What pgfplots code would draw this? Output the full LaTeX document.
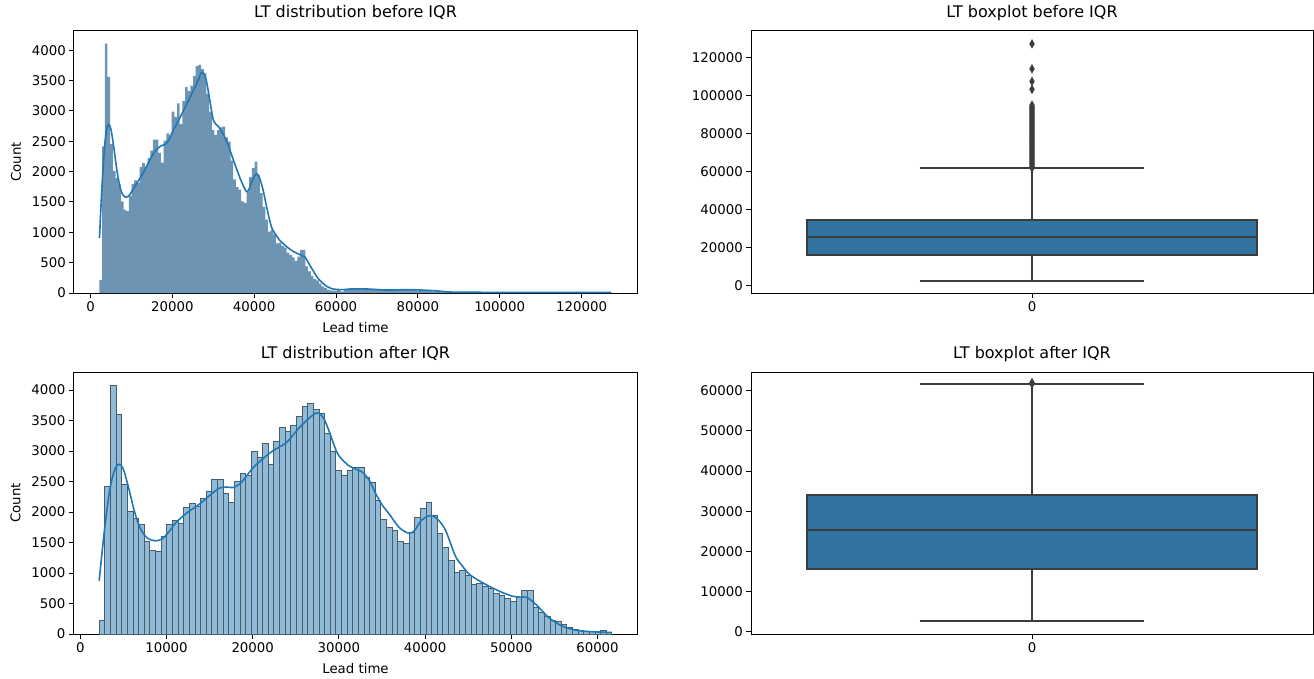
\documentclass[border=0pt]{standalone}
\usepackage{fontspec}
\setmainfont{DejaVu Sans}
\usepackage{pgfplots}
\pgfplotsset{compat=1.18}

\definecolor{cz}{RGB}{31,119,180}
\definecolor{histfill}{RGB}{143,187,217}
\definecolor{histedge}{RGB}{72,92,108}
\definecolor{histtop}{RGB}{110,148,180}
\definecolor{boxfill}{RGB}{50,116,161}
\definecolor{boxline}{RGB}{61,61,61}

\pgfplotsset{
  myaxis/.style={
    scale only axis, width=563pt, height=262pt, anchor=north west,
    axis line style={line width=1pt, black},
    tick pos=left, tick align=outside, major tick length=4.7pt,
    every tick/.style={line width=1pt, black},
    ticklabel style={font=\fontsize{13.33}{16}\selectfont},
    label style={font=\fontsize{13.33}{16}\selectfont},
    title style={font=\fontsize{16}{19}\selectfont, at={(axis description cs:0.5,1.028)}, anchor=base},
    scaled ticks=false,
    /pgf/number format/fixed,
    /pgf/number format/1000 sep={},
    /pgf/number format/assume math mode=true,
    xlabel style={at={(axis description cs:0.5,-0.131)}, anchor=center},
    ylabel style={at={(axis description cs:-0.103,0.5)}, anchor=center},
  },
  boxaxis/.style={
    myaxis, width=562pt, xmin=-0.5, xmax=0.5, xtick={0}, xticklabels={0},
  },
  boxpart/.style={draw=boxline, line width=2pt},
  outl/.style={only marks, mark=diamond*, mark size=4.3pt,
    mark options={xscale=0.75, fill=boxline, draw=boxline, line width=0.4pt}},
}

\begin{document}
\begin{tikzpicture}
\useasboundingbox (0pt,0pt) rectangle (1314pt,-679pt);

% ---------------- Top-left: histogram before IQR
\begin{axis}[myaxis, at={(74pt,-31pt)},
  title={LT distribution before IQR}, xlabel={Lead time}, ylabel={Count},
  xmin=-4030, xmax=133550, ymin=0, ymax=4318,
  xtick={0,20000,...,120000}, ytick={0,500,...,4000}]
\addplot[const plot mark mid, fill=histtop, draw=none] coordinates {
(2190,218) (2517,218) (3170,2417) (3824,4110) (4478,3560) (5131,2455) (5785,2013) (6438,1894) (7092,1790)
(7746,1512) (8399,1375) (9053,1348) (9706,1599) (10360,1800) (11014,1855) (11667,1812) (12321,2074)
(12974,2145) (13628,2085) (14282,2221) (14935,2346) (15589,2527) (16242,2527) (16896,2308) (17550,2150)
(18203,2510) (18857,2630) (19510,2603) (20164,2990) (20818,2903) (21471,3127) (22125,2783) (22778,3165)
(23432,3394) (24086,3329) (24739,3416) (25393,3574) (26046,3738) (26700,3760) (27354,3689) (28007,3618)
(28661,3285) (29314,2990) (29968,2685) (30622,2608) (31275,2690) (31929,2728) (32582,2740) (33236,2565)
(33890,2494) (34543,2183) (35197,1872) (35850,1746) (36504,1703) (37158,1512) (37811,1484) (38465,1664)
(39118,1910) (39772,2057) (40426,2166) (41079,1948) (41733,1648) (42386,1419) (43040,1211) (43694,1010)
(44347,1037) (45001,966) (45654,819) (46308,829) (46962,775) (47615,748) (48269,666) (48922,628)
(49576,589) (50230,529) (50883,600) (51537,709) (52190,709) (52844,437) (53498,355) (54151,284)
(54805,229) (55458,207) (56112,153) (56766,109) (57419,82) (58073,55) (58726,44) (59380,38)
(60034,38) (60687,55) (61341,27) (61668,27)
(62300,58) (64300,62) (66300,64) (68300,60) (70300,55) (72300,52) (74300,50) (76300,52) (78300,50)
(80300,45) (82300,38) (84300,28) (86300,18) (88300,10) (90300,6) (92300,4) (94300,2) (100000,1)
(110000,1) (127300,1)} \closedcycle;
\addplot[smooth, tension=0.5, color=cz, line width=1.6pt] coordinates {
(2200,909) (2800,1750) (3500,2450) (4000,2720) (4490,2772) (5000,2700) (5700,2400) (6500,2000)
(7300,1720) (8000,1610) (8734,1578) (9600,1620) (10500,1720) (12000,1879) (13600,2070) (15265,2290)
(16500,2390) (17306,2427) (18367,2455) (19200,2530) (20163,2674) (21800,2880) (23428,3101)
(25469,3386) (26400,3520) (27102,3633) (27700,3610) (28326,3496) (29100,3200) (29959,2865)
(30700,2780) (31428,2729) (33224,2509) (35265,2126) (36800,1850) (38122,1671) (38800,1720)
(39347,1824) (40000,1920) (40735,1961) (41400,1880) (42204,1688) (43200,1370) (44245,1085)
(45300,960) (46286,866) (48000,760) (49551,685) (51592,619) (52408,592) (53400,480) (54449,362)
(55600,240) (56898,153) (58000,100) (58939,71) (60000,60) (61796,55) (63525,66) (67610,66)
(72500,49) (78200,55) (83900,38) (88000,16) (94000,12) (100200,11) (110000,10) (120000,10) (127300,11)};
\end{axis}

% ---------------- Top-right: boxplot before IQR
\begin{axis}[boxaxis, at={(751pt,-31pt)},
  title={LT boxplot before IQR},
  ymin=-3855, ymax=133755, ytick={0,20000,...,120000}]
\addplot[boxpart] coordinates {(0,2600) (0,16200)};
\addplot[boxpart] coordinates {(0,34300) (0,61600)};
\addplot[boxpart] coordinates {(-0.2,2600) (0.2,2600)};
\addplot[boxpart] coordinates {(-0.2,61600) (0.2,61600)};
\addplot[boxpart, fill=boxfill] coordinates {(-0.4,16200) (0.4,16200) (0.4,34300) (-0.4,34300)} -- cycle;
\addplot[boxpart] coordinates {(-0.4,25500) (0.4,25500)};
\addplot[outl] coordinates {
(0,61800) (0,62400) (0,63000) (0,63600) (0,64200) (0,64800) (0,65400) (0,66000) (0,66600) (0,67200)
(0,67800) (0,68400) (0,69000) (0,69600) (0,70200) (0,70800) (0,71400) (0,72000) (0,72600) (0,73200)
(0,73800) (0,74400) (0,75000) (0,75600) (0,76200) (0,76800) (0,77400) (0,78000) (0,78600) (0,79200)
(0,79800) (0,80400) (0,81000) (0,81600) (0,82200) (0,82800) (0,83400) (0,84000) (0,84600) (0,85200)
(0,85800) (0,86400) (0,87000) (0,87600) (0,88200) (0,88800) (0,89400) (0,90000) (0,90600) (0,91200)
(0,91800) (0,92400) (0,93000) (0,93600) (0,94200) (0,94800)
(0,103100) (0,107300) (0,113900) (0,127000)};
\end{axis}

% ---------------- Bottom-left: histogram after IQR
\begin{axis}[myaxis, at={(73.5pt,-372pt)}, width=564pt,
  title={LT distribution after IQR}, xlabel={Lead time}, ylabel={Count},
  xmin=-789, xmax=64640, ymin=0, ymax=4296,
  xtick={0,10000,...,60000}, ytick={0,500,...,4000}]
\addplot[ybar, bar width=653.6, fill=histfill, draw=histedge, line width=0.8pt] coordinates {
(2517,218) (3170,2417) (3824,4076) (4478,3600) (5131,2455) (5785,2013) (6438,1894) (7092,1790)
(7746,1512) (8399,1375) (9053,1348) (9706,1599) (10360,1800) (11014,1855) (11667,1812) (12321,2074)
(12974,2145) (13628,2085) (14282,2221) (14935,2346) (15589,2527) (16242,2527) (16896,2308) (17550,2150)
(18203,2510) (18857,2630) (19510,2603) (20164,2990) (20818,2903) (21471,3127) (22125,2783) (22778,3165)
(23432,3394) (24086,3329) (24739,3416) (25393,3574) (26046,3738) (26700,3782) (27354,3689) (28007,3618)
(28661,3285) (29314,2990) (29968,2685) (30622,2608) (31275,2690) (31929,2728) (32582,2740) (33236,2565)
(33890,2494) (34543,2183) (35197,1872) (35850,1746) (36504,1703) (37158,1512) (37811,1484) (38465,1664)
(39118,1910) (39772,2057) (40426,2166) (41079,1948) (41733,1648) (42386,1419) (43040,1211) (43694,1010)
(44347,1037) (45001,966) (45654,819) (46308,829) (46962,775) (47615,748) (48269,666) (48922,628)
(49576,589) (50230,529) (50883,600) (51537,709) (52190,709) (52844,437) (53498,355) (54151,284)
(54805,229) (55458,207) (56112,153) (56766,109) (57419,82) (58073,55) (58726,44) (59380,38)
(60034,38) (60687,55) (61341,27)};
\addplot[smooth, tension=0.5, color=cz, line width=1.6pt] coordinates {
(2190,873) (2800,1700) (3400,2350) (4000,2700) (4500,2783) (5000,2700) (5600,2400) (6300,2000)
(7000,1720) (7800,1570) (8700,1528) (9500,1560) (10300,1680) (11100,1828) (12400,1990) (13800,2128)
(15000,2270) (16100,2390) (17000,2410) (17700,2401) (18500,2460) (19200,2576) (20000,2720)
(20800,2827) (22300,3001) (23900,3138) (25400,3383) (26400,3520) (27200,3612) (27700,3620)
(28300,3520) (29000,3274) (29700,3000) (30300,2870) (31200,2756) (32000,2700) (32800,2647)
(33600,2500) (34300,2292) (35100,2100) (35850,1965) (37000,1746) (38100,1653) (38800,1700)
(39500,1855) (40300,1930) (40900,1937) (41600,1860) (42400,1692) (43500,1282) (44300,1120)
(45100,982) (46600,846) (48500,709) (50100,622) (51000,605) (51800,600) (52800,491) (53500,390)
(54300,273) (55100,195) (55800,136) (56600,95) (57400,65) (58300,48) (59300,38) (60300,32)
(61230,27) (61665,25)};
\end{axis}

% ---------------- Bottom-right: boxplot after IQR
\begin{axis}[boxaxis, at={(751pt,-372pt)},
  title={LT boxplot after IQR},
  ymin=-565, ymax=64665, ytick={0,10000,...,60000}]
\addplot[boxpart] coordinates {(0,2560) (0,15700)};
\addplot[boxpart] coordinates {(0,34000) (0,61570)};
\addplot[boxpart] coordinates {(-0.2,2560) (0.2,2560)};
\addplot[boxpart] coordinates {(-0.2,61570) (0.2,61570)};
\addplot[boxpart, fill=boxfill] coordinates {(-0.4,15700) (0.4,15700) (0.4,34000) (-0.4,34000)} -- cycle;
\addplot[boxpart] coordinates {(-0.4,25300) (0.4,25300)};
\addplot[outl] coordinates {(0,61700) (0,61850) (0,62000)};
\end{axis}
\end{tikzpicture}
\end{document}
